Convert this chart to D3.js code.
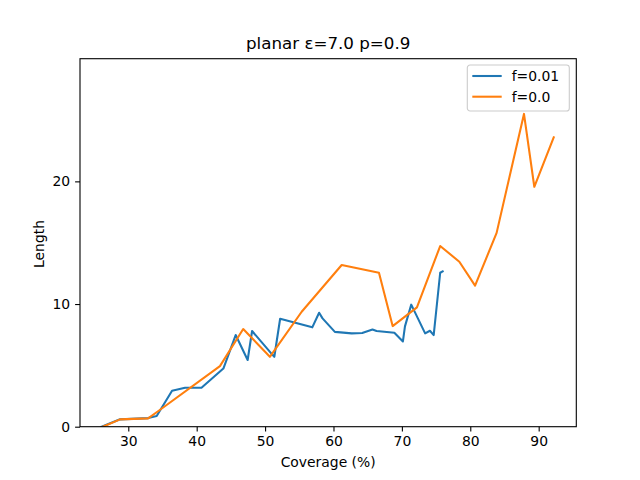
<!DOCTYPE html>
<html>
<head>
<meta charset="utf-8">
<script src="https://cdn.jsdelivr.net/npm/d3@7"></script>
<style>
  body { margin: 0; background: #fff; }
  text { font-family: "DejaVu Sans", sans-serif; fill: #000; }
</style>
</head>
<body>
<svg id="chart"></svg>
<script>
const width = 640, height = 480;
const margin = { top: 58.7, right: 63.7, bottom: 53.3, left: 80 };

const title = 'planar ε=7.0 p=0.9';
const seriesNames = ['f=0.01', 'f=0.0'];
const xTicks = [30, 40, 50, 60, 70, 80, 90];
const yTicks = [0, 10, 20];

const blueX = [26.1, 28.8, 32.9, 34.15, 36.4, 38.3, 40.7, 43.9, 45.7, 47.45, 48.1, 50.9, 51.35, 52.2,
  56.9, 57.9, 58.4, 60.2, 62.66, 64.2, 65.7, 66.3, 68.9, 70.15, 70.45, 71.37, 73.4, 74.1, 74.65, 75.6, 75.96];
const blueY = [0, 0.6, 0.7, 0.87, 2.93, 3.18, 3.18, 4.74, 7.47, 5.44, 7.8, 5.98, 5.7, 8.8,
  8.1, 9.29, 8.83, 7.73, 7.61, 7.64, 7.92, 7.8, 7.66, 6.95, 8.18, 9.95, 7.61, 7.82, 7.47, 12.55, 12.66];

const orangeX = [26.1, 28.8, 32.9, 34.4, 43.4, 46.8, 50.7, 55.35, 61.2, 66.65, 68.65, 72.2, 75.6,
  78.4, 80.7, 83.85, 87.85, 89.36, 92.2];
const orangeY = [-0.05, 0.6, 0.68, 1.28, 4.94, 7.96, 5.7, 9.37, 13.18, 12.55, 8.2, 9.73, 14.73,
  13.45, 11.5, 15.8, 25.5, 19.56, 23.59];

const colors = ['#1f77b4', '#ff7f0e'];
const series = [
  blueX.map((x, i) => [x, blueY[i]]),
  orangeX.map((x, i) => [x, orangeY[i]])
];

const svg = d3.select('#chart').attr('width', width).attr('height', height);

const x = d3.scaleLinear().domain([22.94, 95.5]).range([margin.left, width - margin.right]);
const y = d3.scaleLinear().domain([0, 30]).range([height - margin.bottom, margin.top]);

svg.append('clipPath').attr('id', 'clip')
  .append('rect')
  .attr('x', margin.left).attr('y', margin.top)
  .attr('width', width - margin.left - margin.right)
  .attr('height', height - margin.top - margin.bottom);

const line = d3.line().x(d => x(d[0])).y(d => y(d[1]));

svg.append('g').attr('clip-path', 'url(#clip)')
  .selectAll('path')
  .data(series)
  .join('path')
  .attr('d', line)
  .attr('fill', 'none')
  .attr('stroke', (d, i) => colors[i])
  .attr('stroke-width', 2.08)
  .attr('stroke-linejoin', 'round')
  .attr('stroke-linecap', 'square');

// axes
const xAxis = svg.append('g')
  .attr('transform', `translate(0,${height - margin.bottom})`)
  .call(d3.axisBottom(x).tickValues(xTicks).tickSize(4.9).tickPadding(4.9));
const yAxis = svg.append('g')
  .attr('transform', `translate(${margin.left},0)`)
  .call(d3.axisLeft(y).tickValues(yTicks).tickSize(4.9).tickPadding(4.9));

[xAxis, yAxis].forEach(a => {
  a.select('.domain').remove();
  a.selectAll('.tick line').attr('stroke', '#000').attr('stroke-width', 1.1);
  a.selectAll('.tick text').attr('font-size', 13.9).style('font-family', '"DejaVu Sans", sans-serif').attr('fill', '#000');
});

svg.append('rect')
  .attr('x', margin.left).attr('y', margin.top)
  .attr('width', width - margin.left - margin.right)
  .attr('height', height - margin.top - margin.bottom)
  .attr('fill', 'none').attr('stroke', '#000').attr('stroke-width', 1.1);

// labels
svg.append('text')
  .attr('x', (margin.left + width - margin.right) / 2).attr('y', 49)
  .attr('text-anchor', 'middle').attr('font-size', 16.7)
  .text(title);

svg.append('text')
  .attr('x', (margin.left + width - margin.right) / 2).attr('y', 467)
  .attr('text-anchor', 'middle').attr('font-size', 13.9)
  .text('Coverage (%)');

svg.append('text')
  .attr('transform', 'translate(44,244) rotate(-90)')
  .attr('text-anchor', 'middle').attr('font-size', 13.9)
  .text('Length');

// legend
const legend = svg.append('g').attr('transform', 'translate(467.3,65)');
legend.append('rect')
  .attr('width', 102).attr('height', 46).attr('rx', 2.8)
  .attr('fill', '#fff').attr('fill-opacity', 0.8)
  .attr('stroke', '#cccccc').attr('stroke-width', 1.1);

const items = legend.selectAll('g.item')
  .data(seriesNames)
  .join('g')
  .attr('class', 'item')
  .attr('transform', (d, i) => `translate(0,${11 + i * 20.7})`);
items.append('line')
  .attr('x1', 5).attr('x2', 34.4)
  .attr('stroke', (d, i) => colors[i]).attr('stroke-width', 2.08);
items.append('text')
  .attr('x', 44.4).attr('y', 5)
  .attr('font-size', 13.9)
  .text(d => d);
</script>
</body>
</html>
